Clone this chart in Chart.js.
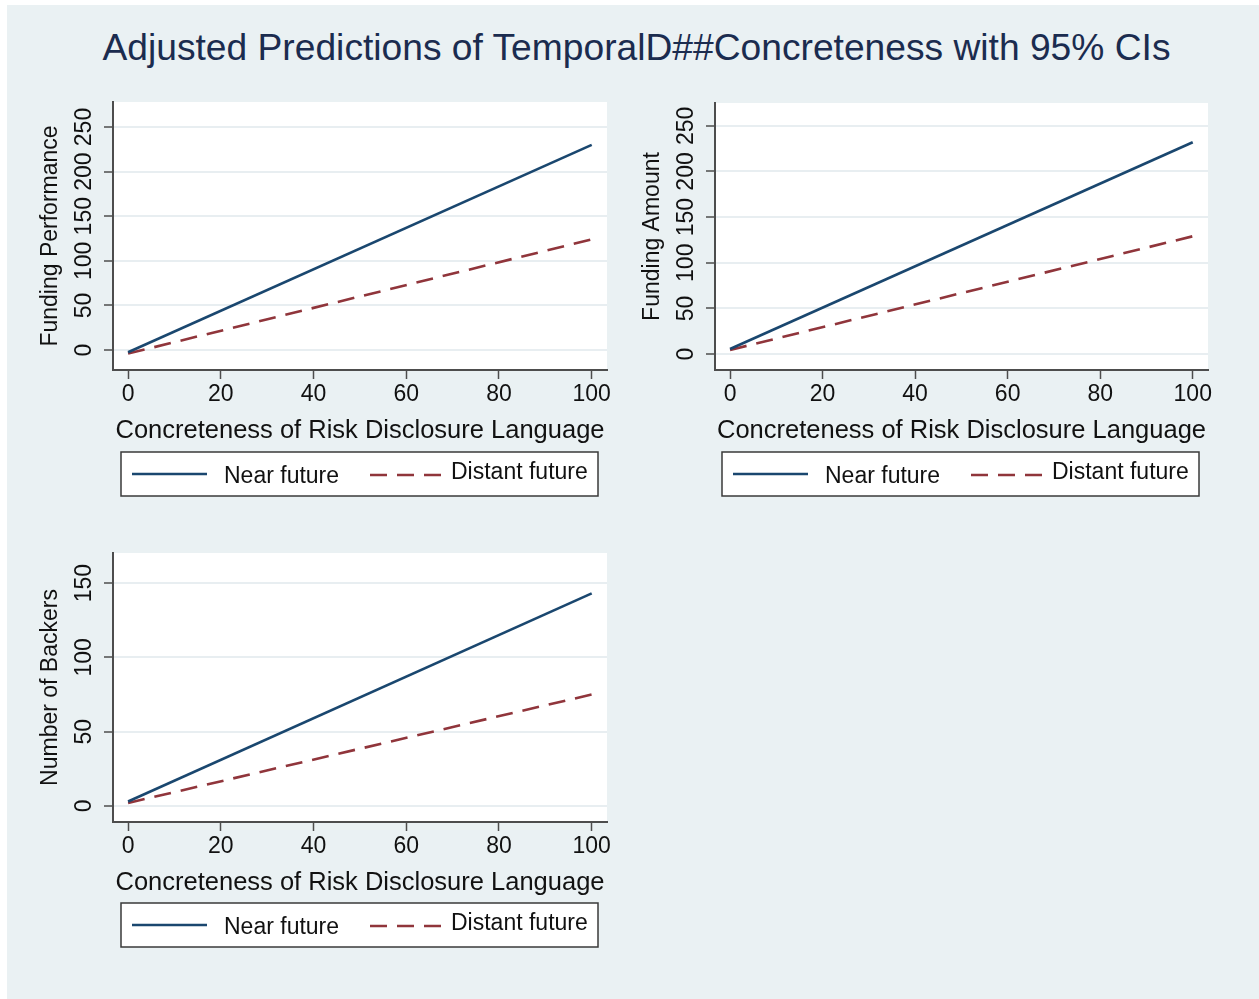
<!DOCTYPE html>
<html>
<head>
<meta charset="utf-8">
<script src="https://cdn.jsdelivr.net/npm/chart.js@4.4.1/dist/chart.umd.min.js"></script>
<style>
  html, body { margin: 0; padding: 0; background: #ffffff; }
  #page { position: absolute; left: 7px; top: 5px; width: 1252px; height: 994px; background: #eaf1f3; }
  #title { position: absolute; left: 7px; top: 29px; width: 1259px; text-align: center;
           font-family: "Liberation Sans", Arial, sans-serif; font-size: 37.2px; line-height: 37px;
           color: #1b2c4f; white-space: nowrap; }
  canvas { position: absolute; }
</style>
</head>
<body>
<div id="page"></div>
<div id="title">Adjusted Predictions of TemporalD##Concreteness with 95% CIs</div>
<canvas id="perf" width="620" height="440" style="left:0px;top:80px"></canvas>
<canvas id="amount" width="630" height="440" style="left:602px;top:80px"></canvas>
<canvas id="backers" width="620" height="440" style="left:0px;top:530px"></canvas>
<script>
// Concreteness values at which predictions are evaluated
const concreteness = [0, 100];
const xTicks = [0, 20, 40, 60, 80, 100];
const seriesLabels = ['Near future', 'Distant future'];

// Predicted funding performance
const perfNear = [-2.5, 230];
const perfDistant = [-4, 124];
// Predicted funding amount
const amountNear = [5.5, 232];
const amountDistant = [4.5, 129];
// Predicted number of backers
const backersNear = [3, 143];
const backersDistant = [2, 75];

const perfTicks = [0, 50, 100, 150, 200, 250];
const amountTicks = [0, 50, 100, 150, 200, 250];
const backersTicks = [0, 50, 100, 150];

const FONT = '"Liberation Sans", Arial, sans-serif';
const NAVY = '#1a476f';
const MAROON = '#90353b';
const AXIS = '#4d4d4d';
const GRID = '#e8eef1';

Chart.defaults.font.family = FONT;
Chart.defaults.color = '#111111';
Chart.defaults.animation = false;

function points(xs, ys) {
  return xs.map((x, i) => ({ x: x, y: ys[i] }));
}

// White plot region behind the lines
const plotBackground = {
  id: 'plotBackground',
  beforeDraw(chart) {
    const { ctx, chartArea: a } = chart;
    ctx.save();
    ctx.fillStyle = '#ffffff';
    ctx.fillRect(a.left, a.top, a.right - a.left, a.bottom - a.top);
    ctx.restore();
  }
};

// Boxed key below the x-axis title
const keyBox = {
  id: 'keyBox',
  afterDraw(chart, args, opts) {
    const { ctx, chartArea } = chart;
    const L = chartArea.left + opts.dx;
    const T = opts.top;
    const ds = chart.data.datasets;
    ctx.save();
    ctx.fillStyle = '#ffffff';
    ctx.fillRect(L, T, 477, 44);
    ctx.strokeStyle = '#3a3a3a';
    ctx.lineWidth = 1.5;
    ctx.strokeRect(L, T, 477, 44);

    ctx.lineWidth = 2.5;
    ctx.strokeStyle = ds[0].borderColor;
    ctx.setLineDash([]);
    ctx.beginPath();
    ctx.moveTo(L + 11, T + 22);
    ctx.lineTo(L + 86, T + 22);
    ctx.stroke();

    ctx.strokeStyle = ds[1].borderColor;
    ctx.setLineDash(ds[1].borderDash);
    ctx.beginPath();
    ctx.moveTo(L + 249, T + 23);
    ctx.lineTo(L + 323, T + 23);
    ctx.stroke();
    ctx.setLineDash([]);

    ctx.fillStyle = '#111111';
    ctx.font = '23px ' + FONT;
    ctx.textBaseline = 'middle';
    ctx.textAlign = 'left';
    ctx.fillText(ds[0].label, L + 103, T + 25);
    ctx.fillText(ds[1].label, L + 330, T + 21);
    ctx.restore();
  }
};

function makePanel(id, cfg) {
  const chartLeft = 113;
  const canvas = document.getElementById(id);
  const W = canvas.width, H = canvas.height;
  const xTitleBottom = cfg.xTitleMid + 15.3;
  const xHeight = xTitleBottom - cfg.chartBottom;
  new Chart(canvas, {
    type: 'line',
    data: {
      datasets: [
        { label: seriesLabels[0], data: points(concreteness, cfg.near),
          borderColor: NAVY, borderWidth: 2.6, pointRadius: 0, fill: false, tension: 0 },
        { label: seriesLabels[1], data: points(concreteness, cfg.distant),
          borderColor: MAROON, borderWidth: 2.6, borderDash: [17, 10], pointRadius: 0, fill: false, tension: 0 }
      ]
    },
    options: {
      responsive: false,
      animation: false,
      layout: { padding: { left: 0, top: cfg.chartTop, right: W - cfg.chartRight, bottom: H - xTitleBottom } },
      plugins: {
        legend: { display: false },
        tooltip: { enabled: false },
        keyBox: { top: cfg.keyTop, dx: cfg.keyDx }
      },
      scales: {
        x: {
          type: 'linear', min: -3.25, max: 103.3,
          afterBuildTicks: s => { s.ticks = xTicks.map(v => ({ value: v })); },
          afterFit: s => { s.height = xHeight; },
          grid: { drawOnChartArea: false, drawTicks: true, tickLength: 9, tickColor: AXIS, tickWidth: 1.5 },
          border: { display: true, color: AXIS, width: 2 },
          ticks: { autoSkip: false, maxRotation: 0, font: { size: 23 }, padding: 2, callback: v => String(v) },
          title: { display: true, text: 'Concreteness of Risk Disclosure Language', font: { size: 25.5 }, padding: { top: 0, bottom: 0 } }
        },
        y: {
          type: 'linear', min: cfg.yMin, max: cfg.yMax,
          afterBuildTicks: s => { s.ticks = cfg.yTicks.map(v => ({ value: v })); },
          afterFit: s => { s.width = chartLeft; },
          grid: { drawOnChartArea: true, color: GRID, lineWidth: 2, drawTicks: true, tickLength: 9, tickColor: AXIS, tickWidth: 1.5 },
          border: { display: true, color: AXIS, width: 2 },
          ticks: { autoSkip: false, minRotation: 90, maxRotation: 90, crossAlign: 'center', padding: 0, font: { size: 23 }, callback: v => String(v) },
          title: { display: true, text: cfg.yTitle, font: { size: 23 }, padding: { top: 37, bottom: 0 } }
        }
      }
    },
    plugins: [plotBackground, keyBox]
  });
}

makePanel('perf', {
  near: perfNear, distant: perfDistant, yTicks: perfTicks, yMin: -22.4, yMax: 278,
  yTitle: 'Funding Performance',
  chartTop: 22, chartBottom: 290, chartRight: 607, xTitleMid: 351, keyTop: 372, keyDx: 8
});
makePanel('amount', {
  near: amountNear, distant: amountDistant, yTicks: amountTicks, yMin: -17.5, yMax: 275,
  yTitle: 'Funding Amount',
  chartTop: 23, chartBottom: 290, chartRight: 606, xTitleMid: 351, keyTop: 372, keyDx: 7
});
makePanel('backers', {
  near: backersNear, distant: backersDistant, yTicks: backersTicks, yMin: -10.8, yMax: 170.2,
  yTitle: 'Number of Backers',
  chartTop: 23, chartBottom: 292, chartRight: 607, xTitleMid: 353, keyTop: 373, keyDx: 8
});
</script>
</body>
</html>
